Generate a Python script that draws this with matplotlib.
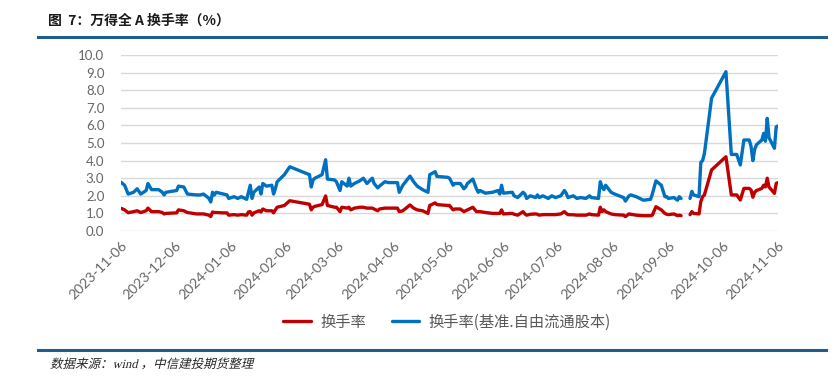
import pandas as pd
import numpy as np
import matplotlib
matplotlib.use('Agg')
import matplotlib.pyplot as plt
from matplotlib.lines import Line2D
from matplotlib.textpath import TextPath
from matplotlib.patches import PathPatch
from matplotlib.font_manager import FontProperties
from matplotlib.transforms import Affine2D, IdentityTransform

plt.rcParams['font.family'] = ['Lato', 'Noto Sans CJK SC', 'DejaVu Sans']

# 日期与两条换手率序列(%)，读自原图
dates = [
    '2023-11-06', '2023-11-08', '2023-11-10', '2023-11-13', '2023-11-15', '2023-11-17',
    '2023-11-20', '2023-11-21', '2023-11-23', '2023-11-27', '2023-11-29', '2023-11-30',
    '2023-12-01', '2023-12-07', '2023-12-08', '2023-12-11', '2023-12-13', '2023-12-18',
    '2023-12-20', '2023-12-22', '2023-12-25', '2023-12-26', '2023-12-27', '2023-12-28',
    '2023-12-29', '2024-01-02', '2024-01-04', '2024-01-05', '2024-01-08', '2024-01-10',
    '2024-01-12', '2024-01-15', '2024-01-16', '2024-01-17', '2024-01-18', '2024-01-19',
    '2024-01-22', '2024-01-23', '2024-01-24', '2024-01-26', '2024-01-29', '2024-01-30',
    '2024-01-31', '2024-02-01', '2024-02-05', '2024-02-08', '2024-02-19', '2024-02-20',
    '2024-02-21', '2024-02-22', '2024-02-26', '2024-02-28', '2024-02-29', '2024-03-04',
    '2024-03-05', '2024-03-07', '2024-03-08', '2024-03-11', '2024-03-12', '2024-03-13',
    '2024-03-15', '2024-03-18', '2024-03-20', '2024-03-22', '2024-03-25', '2024-03-26',
    '2024-03-28', '2024-03-29', '2024-04-01', '2024-04-03', '2024-04-08', '2024-04-09',
    '2024-04-11', '2024-04-15', '2024-04-17', '2024-04-19', '2024-04-22', '2024-04-25',
    '2024-04-26', '2024-04-29', '2024-04-30', '2024-05-06', '2024-05-07', '2024-05-09',
    '2024-05-10', '2024-05-13', '2024-05-15', '2024-05-16', '2024-05-17', '2024-05-20',
    '2024-05-22', '2024-05-23', '2024-05-24', '2024-05-27', '2024-05-31', '2024-06-03',
    '2024-06-04', '2024-06-05', '2024-06-06', '2024-06-11', '2024-06-12', '2024-06-14',
    '2024-06-17', '2024-06-18', '2024-06-19', '2024-06-21', '2024-06-24', '2024-06-25',
    '2024-06-26', '2024-06-28', '2024-07-01', '2024-07-03', '2024-07-05', '2024-07-08',
    '2024-07-10', '2024-07-11', '2024-07-12', '2024-07-15', '2024-07-17', '2024-07-19',
    '2024-07-22', '2024-07-24', '2024-07-25', '2024-07-29', '2024-07-30', '2024-07-31',
    '2024-08-01', '2024-08-02', '2024-08-05', '2024-08-07', '2024-08-12', '2024-08-13',
    '2024-08-15', '2024-08-16', '2024-08-19', '2024-08-21', '2024-08-23', '2024-08-27',
    '2024-08-28', '2024-08-30', '2024-09-02', '2024-09-04', '2024-09-05', '2024-09-06',
    '2024-09-09', '2024-09-11', '2024-09-12', '2024-09-13', '2024-09-14', '2024-09-18',
    '2024-09-19', '2024-09-20', '2024-09-23', '2024-09-24', '2024-09-25', '2024-09-26',
    '2024-09-30', '2024-10-08', '2024-10-11', '2024-10-14', '2024-10-16', '2024-10-18',
    '2024-10-21', '2024-10-22', '2024-10-23', '2024-10-24', '2024-10-25', '2024-10-28',
    '2024-10-29', '2024-10-30', '2024-10-31', '2024-11-01', '2024-11-04', '2024-11-05',
    '2024-11-06',
]

# 换手率(基准.自由流通股本)
free_float = [
    2.77, 2.60, 2.10, 2.20, 2.40, 2.10,
    2.30, 2.70, 2.35, 2.35, 2.20, 2.05,
    2.20, 2.30, 2.55, 2.50, 2.10, 2.05,
    2.05, 2.10, 1.85, 1.65, 2.20, 2.05,
    2.20, 2.10, 2.05, 1.85, 1.95, 1.85,
    1.95, 1.80, 2.20, 2.60, 1.85, 2.20,
    2.50, 2.10, 2.70, 2.55, 2.60, 2.10,
    2.40, 2.80, 3.20, 3.65, 3.20, 2.50,
    2.90, 3.00, 3.20, 4.05, 2.95, 2.90,
    2.80, 2.30, 2.80, 2.55, 3.00, 2.55,
    2.70, 2.85, 3.00, 2.70, 3.00, 2.70,
    2.45, 2.55, 2.80, 2.75, 2.75, 2.20,
    2.60, 3.12, 2.80, 2.55, 2.35, 2.20,
    3.20, 3.37, 3.10, 3.05, 3.00, 2.60,
    2.70, 2.70, 2.40, 2.50, 2.70, 2.95,
    2.40, 2.20, 2.30, 2.15, 2.20, 2.30,
    2.10, 2.60, 2.15, 2.20, 2.00, 1.90,
    2.20, 2.10, 1.85, 2.00, 1.90, 2.05,
    1.90, 2.00, 1.85, 2.00, 1.90, 2.00,
    2.30, 2.15, 1.90, 2.00, 1.85, 1.90,
    1.85, 2.00, 1.90, 1.85, 2.80, 2.50,
    2.35, 2.60, 2.20, 2.10, 1.90, 1.70,
    2.00, 2.05, 1.95, 1.85, 1.75, 1.80,
    2.10, 2.85, 2.60, 1.95, 1.95, 1.85,
    1.90, 1.75, 1.95, 1.85, np.nan, 1.85,
    2.25, 2.05, 1.95, 3.90, 4.00, 4.40,
    7.55, 9.05, 4.35, 4.35, 3.75, 5.17,
    5.17, 4.80, 4.00, 4.64, 4.90, 5.17,
    5.55, 5.10, 6.40, 5.30, 4.70, 5.92,
    5.97,
]

# 换手率
turnover = [
    1.29, 1.20, 1.04, 1.10, 1.15, 1.05,
    1.15, 1.30, 1.10, 1.10, 1.05, 0.97,
    1.00, 1.03, 1.20, 1.15, 1.05, 0.97,
    0.97, 0.97, 0.90, 0.82, 1.08, 1.05,
    1.05, 1.03, 1.03, 0.90, 0.93, 0.90,
    0.93, 0.90, 1.08, 1.10, 0.90, 1.03,
    1.15, 1.08, 1.25, 1.15, 1.15, 1.03,
    1.20, 1.35, 1.45, 1.72, 1.52, 1.20,
    1.35, 1.40, 1.50, 1.99, 1.45, 1.35,
    1.35, 1.10, 1.35, 1.30, 1.35, 1.20,
    1.30, 1.35, 1.35, 1.30, 1.30, 1.25,
    1.15, 1.25, 1.30, 1.30, 1.30, 1.10,
    1.15, 1.48, 1.30, 1.20, 1.15, 1.00,
    1.45, 1.60, 1.50, 1.45, 1.45, 1.20,
    1.25, 1.25, 1.10, 1.15, 1.20, 1.35,
    1.10, 1.10, 1.10, 1.05, 1.00, 1.00,
    1.00, 1.20, 0.97, 1.00, 0.95, 0.90,
    1.10, 0.97, 0.90, 0.95, 0.97, 0.95,
    0.90, 0.93, 0.93, 0.93, 0.93, 0.97,
    1.10, 1.00, 0.93, 0.92, 0.90, 0.90,
    0.90, 0.97, 0.93, 0.90, 1.35, 1.10,
    1.20, 1.10, 0.97, 0.93, 0.90, 0.82,
    0.97, 0.95, 0.90, 0.88, 0.87, 0.87,
    0.90, 1.38, 1.20, 1.00, 0.95, 0.93,
    0.97, 0.87, 0.90, 0.87, np.nan, 0.93,
    1.10, 1.00, 0.97, 1.67, 1.95, 2.05,
    3.47, 4.22, 2.05, 2.05, 1.76, 2.42,
    2.42, 2.33, 1.92, 2.20, 2.30, 2.42,
    2.60, 2.50, 3.00, 2.50, 2.14, 2.70,
    2.75,
]

tick_dates = ['2023-11-06', '2023-12-06', '2024-01-06', '2024-02-06', '2024-03-06',
              '2024-04-06', '2024-05-06', '2024-06-06', '2024-07-06', '2024-08-06',
              '2024-09-06', '2024-10-06', '2024-11-06']

x = pd.to_datetime(dates)
ticks = pd.to_datetime(tick_dates)

W, H = 834, 376
fig = plt.figure(figsize=(W / 100, H / 100), dpi=100)
ax = fig.add_axes([121 / W, 1 - 231 / H, (778 - 121) / W, (231 - 55) / H])

ax.plot(x, turnover, color='#C00000', lw=2.4, label='换手率', solid_capstyle='round')
ax.plot(x, free_float, color='#0070C0', lw=2.4, label='换手率(基准.自由流通股本)',
        solid_capstyle='round')

ax.set_ylim(0, 10)
ax.set_yticks(np.arange(0, 11, 1))
ax.yaxis.set_major_formatter(plt.FuncFormatter(lambda v, p: f'{v:.1f}'))
ax.set_xlim(ticks[0], ticks[-1])
ax.set_xticks(ticks)
ax.set_xticklabels(tick_dates, rotation=45, ha='right', rotation_mode='anchor')
ax.grid(axis='y', color='#d9d9d9', lw=1)
ax.set_axisbelow(True)
for s in ax.spines.values():
    s.set_visible(False)
ax.tick_params(length=0, colors='#666666')
ax.tick_params(axis='y', pad=12, labelsize=9.5)
ax.tick_params(axis='x', pad=6, labelsize=10.2)

fig.legend(loc='center', bbox_to_anchor=(447 / W, 1 - 322 / H), ncol=2, frameon=False,
           prop=FontProperties(family=['Noto Sans CJK SC'], size=11),
           handlelength=1.8, columnspacing=1.7, handletextpad=0.6,
           labelcolor='#595959')

# 标题与分隔线
fig.text(48 / W, 1 - 21 / H, '图  7：万得全 A 换手率（%）', fontsize=10, weight='bold',
         va='center', color='#1a1a1a', family=['Noto Sans CJK SC'])
fig.add_artist(Line2D([38 / W, 826 / W], [1 - 37 / H] * 2, color='#1F5C8F', lw=2.2))
fig.add_artist(Line2D([38 / W, 826 / W], [1 - 350 / H] * 2, color='#1F5C8F', lw=2.2))

# 来源行：斜体（用倾斜的文字路径模拟）
src = '数据来源：wind ，中信建投期货整理'
tp = TextPath((0, 0), src, size=12.5,
              prop=FontProperties(family=['Liberation Serif', 'Noto Sans CJK SC']))
tr = Affine2D().skew_deg(14, 0).translate(50, H - 368) + IdentityTransform()
fig.add_artist(PathPatch(tp, transform=tr, color='#262626', lw=0))

plt.savefig('out.png', dpi=100)
